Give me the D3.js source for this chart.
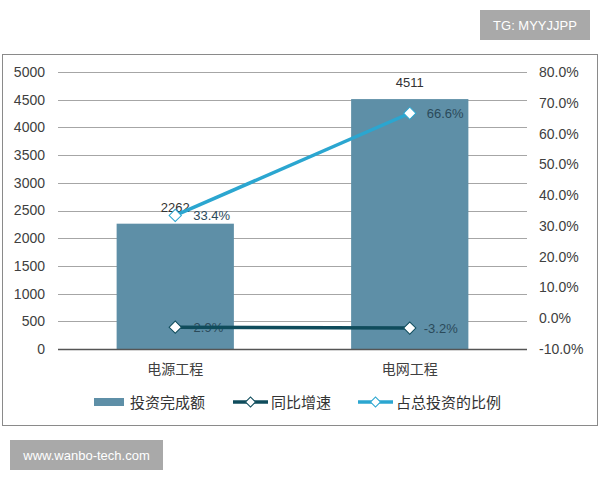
<!DOCTYPE html>
<html><head><meta charset="utf-8">
<script src="https://cdn.jsdelivr.net/npm/d3@7"></script>
<style>body{margin:0;background:#fff;}svg{display:block;font-family:"Liberation Sans","Noto Sans CJK SC",sans-serif;}</style>
</head><body>
<svg id="c" width="600" height="480"></svg>
<script>
const categories = ["电源工程", "电网工程"];
const investment = [2262, 4511];
const growth = [-2.9, -3.2];
const share = [33.4, 66.6];
const leftTicks = [0,500,1000,1500,2000,2500,3000,3500,4000,4500,5000];
const rightTicks = [-10,0,10,20,30,40,50,60,70,80];
const seriesNames = ["投资完成额", "同比增速", "占总投资的比例"];

const svg = d3.select("#c");
const L = 58, R = 527, T = 72, B = 349;
const barColor = "#5e8fa7", darkLine = "#0f4c5c", lightLine = "#2ba6d0";

// frame
svg.append("rect").attr("x",2.5).attr("y",54.5).attr("width",595).attr("height",371)
  .attr("fill","#fff").attr("stroke","#8a8a8a").attr("stroke-width",1);

const x = d3.scaleBand().domain(categories).range([L,R]).paddingInner(0.5).paddingOuter(0.25);
const y = d3.scaleLinear().domain([0,5000]).range([B,T]);
const y2 = d3.scaleLinear().domain([-10,80]).range([B,T]);

// grid
svg.append("g").selectAll("line").data(leftTicks.filter(d=>d>0)).join("line")
  .attr("x1",L).attr("x2",R).attr("y1",d=>Math.round(y(d))+0.5).attr("y2",d=>Math.round(y(d))+0.5)
  .attr("stroke","#a6a6a6").attr("stroke-width",1);

// left axis
const ga = svg.append("g").attr("transform",`translate(${L-13},0)`)
  .call(d3.axisLeft(y).tickValues(leftTicks).tickSize(0).tickPadding(0).tickFormat(d3.format("d")));
ga.select(".domain").remove();
ga.selectAll("text").attr("font-size",14).attr("fill","#404040");

// right axis
const gb = svg.append("g").attr("transform",`translate(${R+12},0)`)
  .call(d3.axisRight(y2).tickValues(rightTicks).tickSize(0).tickPadding(0).tickFormat(d=>d.toFixed(1)+"%"));
gb.select(".domain").remove();
gb.selectAll("text").attr("font-size",14).attr("fill","#404040");

// bars
svg.append("g").selectAll("rect").data(investment).join("rect")
  .attr("x",(d,i)=>x(categories[i])).attr("width",x.bandwidth())
  .attr("y",d=>y(d)).attr("height",d=>B-y(d)).attr("fill",barColor);

// x axis line
svg.append("line").attr("x1",L).attr("x2",R).attr("y1",B+0.5).attr("y2",B+0.5)
  .attr("stroke","#555").attr("stroke-width",1.5);

// category labels
svg.append("g").selectAll("text").data(categories).join("text")
  .attr("x",d=>x(d)+x.bandwidth()/2).attr("y",B+25).attr("text-anchor","middle")
  .attr("font-size",14).attr("fill","#404040").text(d=>d);

// bar labels
svg.append("g").selectAll("text").data(investment).join("text")
  .attr("x",(d,i)=>x(categories[i])+x.bandwidth()/2).attr("y",d=>y(d)-12).attr("text-anchor","middle")
  .attr("font-size",13).attr("fill","#333").text(d=>d);

const cx = i => x(categories[i]) + x.bandwidth()/2;
const marker = d3.symbol().type(d3.symbolSquare).size(75);

// growth labels (drawn before the line so the line passes over them)
svg.append("g").selectAll("text").data(growth).join("text")
  .attr("x",(d,i)=>cx(i)+14).attr("y",d=>y2(d)+5)
  .attr("font-size",13).attr("fill","#2b4a5a").text(d=>d.toFixed(1)+"%");

const lineG = d3.line().x((d,i)=>cx(i)).y(d=>y2(d));

// growth line
svg.append("path").attr("d",lineG(growth)).attr("fill","none").attr("stroke",darkLine).attr("stroke-width",3.5);
svg.append("g").selectAll("path").data(growth).join("path")
  .attr("transform",(d,i)=>`translate(${cx(i)},${y2(d)}) rotate(45)`)
  .attr("d",marker).attr("fill","#fff").attr("stroke",darkLine).attr("stroke-width",1);

// share line
svg.append("path").attr("d",lineG(share)).attr("fill","none").attr("stroke",lightLine).attr("stroke-width",3.5);
svg.append("g").selectAll("path").data(share).join("path")
  .attr("transform",(d,i)=>`translate(${cx(i)},${y2(d)}) rotate(45)`)
  .attr("d",marker).attr("fill","#fff").attr("stroke",lightLine).attr("stroke-width",1);
svg.append("g").selectAll("text").data(share).join("text")
  .attr("x",(d,i)=>cx(i)+(i===0?18:17)).attr("y",d=>y2(d)+5)
  .attr("font-size",13).attr("fill","#2b4a5a").text(d=>d.toFixed(1)+"%");

// legend
const ly = 402;
const lg = svg.append("g").attr("font-size",15).attr("fill","#333");
lg.append("rect").attr("x",94).attr("y",ly-4).attr("width",30).attr("height",8).attr("fill",barColor);
lg.append("text").attr("x",130).attr("y",ly+6).text(seriesNames[0]);
[[233,darkLine,271,seriesNames[1]],[358,lightLine,396,seriesNames[2]]].forEach(([lx,col,tx,name])=>{
  lg.append("line").attr("x1",lx).attr("x2",lx+35).attr("y1",ly).attr("y2",ly).attr("stroke",col).attr("stroke-width",3.5);
  lg.append("path").attr("transform",`translate(${lx+17.5},${ly}) rotate(45)`)
    .attr("d",d3.symbol().type(d3.symbolSquare).size(50)).attr("fill","#fff").attr("stroke",col).attr("stroke-width",1);
  lg.append("text").attr("x",tx).attr("y",ly+6).text(name);
});

// watermarks
svg.append("rect").attr("x",480).attr("y",10).attr("width",110).attr("height",30).attr("fill","#a9a9a9");
svg.append("text").attr("x",535).attr("y",30).attr("text-anchor","middle").attr("font-size",13).attr("fill","#fff").text("TG: MYYJJPP");
svg.append("rect").attr("x",10).attr("y",440).attr("width",153).attr("height",30).attr("fill","#a9a9a9");
svg.append("text").attr("x",86.5).attr("y",460).attr("text-anchor","middle").attr("font-size",13).attr("fill","#fff").text("www.wanbo-tech.com");
</script>
</body></html>
